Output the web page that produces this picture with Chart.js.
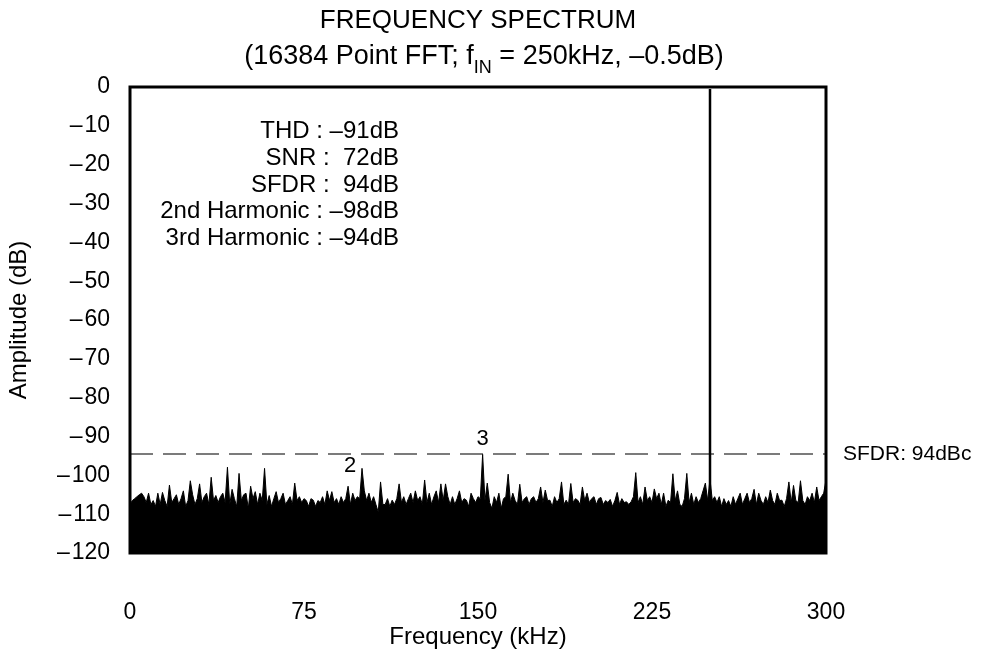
<!DOCTYPE html>
<html><head><meta charset="utf-8">
<script src="https://cdn.jsdelivr.net/npm/chart.js@4"></script>
<style>html,body{margin:0;padding:0;background:#fff}#wrap{width:986px;height:649px;position:relative}</style>
</head><body><div id="wrap"><canvas id="c"></canvas></div>
<script>
// ---------- data ----------
const titleLine1 = 'FREQUENCY SPECTRUM';
const titleLine2 = ['(16384 Point FFT; f', 'IN', ' = 250kHz, \u20130.5dB)'];
const xTitle = 'Frequency (kHz)';
const yTitle = 'Amplitude (dB)';
const xTicks = [0, 75, 150, 225, 300];
const yTicks = [0, -10, -20, -30, -40, -50, -60, -70, -80, -90, -100, -110, -120];
const binStepKHz = 1;
// noise-floor envelope, one value per kHz bin from 0 to 300 kHz (dB)
const noiseFloorDb = [
-107.5,-106.5,-106,-105.5,-105,-104.6,-105.5,-107,-104.6,-107.5,
-106.5,-108,-104.6,-107.5,-104.4,-106.5,-108,-102.5,-107,-106,
-105,-107.5,-106,-104,-108,-106.5,-101.4,-105,-107.5,-106,
-102.2,-107,-105.5,-104.6,-107.5,-100.5,-106.5,-105.2,-107,-105.5,
-104.6,-107,-97.9,-107.5,-103.6,-106,-108,-99.5,-106.5,-105,
-104.6,-108.5,-102.8,-106,-104.2,-107.5,-104.6,-106.5,-98.2,-107.5,
-105.2,-108,-106,-104.2,-107,-106,-104.6,-107.5,-106.5,-105.5,
-107.5,-102,-106.5,-105.5,-107,-106,-106.5,-108,-106,-106.4,
-108,-106.5,-107,-105.5,-107.5,-104,-106.5,-104.2,-107,-106,
-107.5,-105.5,-107,-106,-102.8,-107.5,-104.6,-106.5,-105.5,-106,
-98.2,-104,-106.5,-104.6,-107,-105.5,-107.5,-109.5,-101.7,-107.5,
-107.5,-106,-108,-106.4,-107.5,-106,-102.2,-107,-105.5,-107.5,
-106,-104.6,-107,-104,-106.5,-105.5,-107.5,-101.2,-107,-104.6,
-107.5,-105.5,-104,-107,-102.2,-106.5,-102.2,-105.5,-107.5,-105.5,
-107.5,-106,-104,-107,-106,-106.4,-108,-104.6,-106,-107,
-105.5,-106,-94.6,-106.5,-102,-107,-108.5,-105.5,-107,-104.6,
-108.5,-106,-105.5,-99.7,-107,-104.6,-106.5,-107.5,-102.3,-107,
-106,-105.5,-107.5,-106,-105.5,-107,-106,-103,-107,-103.8,
-106.5,-106.4,-108,-105.5,-107,-106,-101.7,-107.5,-106.4,-107.5,
-102.1,-107,-106,-106.4,-107.5,-103,-106.5,-104.6,-107,-106,
-105.5,-107.5,-106,-105.7,-107.5,-106.5,-107,-106.2,-108,-106.5,
-104.4,-107.5,-106,-107,-106.8,-107.5,-106.8,-105.5,-99.3,-107,
-105.5,-107.5,-103,-106.5,-105.5,-107,-103.5,-106,-104.6,-107.5,
-104.6,-108,-106.4,-107,-99.6,-106.5,-104,-107.5,-108,-106,
-99.5,-107,-104.6,-107.5,-105.5,-107,-106,-104,-102,-106.5,
-101,-106.5,-105.5,-107,-105.5,-108,-106,-107.5,-106.5,-108,
-105.5,-107.5,-106,-104.6,-107.5,-106,-104.6,-107,-106,-103.6,
-107.5,-104.6,-106.5,-107.5,-105.5,-107,-103.8,-106.5,-107.5,-104.6,
-106.5,-106.4,-108,-106,-101.7,-107,-102.6,-106.5,-107,-101.4,
-106.5,-107.5,-105.5,-106.5,-104.6,-107,-103,-106.5,-105.5,-104.6,
-101.2
];
const fundamentalKHz = 250;
const fundamentalDb = -0.5;
const sfdrLevelDb = -94.5;
const sfdrLabel = 'SFDR: 94dBc';
const harmonicLabels = ['2', '3'];
const harmonicKHz = [100, 152];
const harmonicDb = [-98.2, -94.6];
const statLines = ['THD : \u201391dB', 'SNR :  72dB', 'SFDR :  94dB', '2nd Harmonic : \u201398dB', '3rd Harmonic : \u201394dB'];

// ---------- chart ----------
const FONT = "'Liberation Sans', Arial, Helvetica, sans-serif";
Chart.defaults.font.family = FONT;
Chart.defaults.color = '#000';

const noisePts = noiseFloorDb.map((v, i) => ({x: i * binStepKHz, y: v}));
const fundPts = [{x: fundamentalKHz, y: -120}, {x: fundamentalKHz, y: fundamentalDb}];
const sfdrPts = [{x: xTicks[0], y: sfdrLevelDb}, {x: xTicks[xTicks.length - 1], y: sfdrLevelDb}];

const dash = s => String(s).replace('-', '\u2013\u200A');

const overlay = {
  id: 'overlay',
  afterDatasetsDraw(chart) {
    const ctx = chart.ctx, a = chart.chartArea;
    const xs = chart.scales.x, ys = chart.scales.y;
    ctx.save();
    // frame
    ctx.strokeStyle = '#000';
    ctx.lineWidth = 3;
    ctx.strokeRect(a.left, a.top, a.right - a.left, a.bottom - a.top);
    ctx.fillStyle = '#000';
    // title
    ctx.textAlign = 'center';
    ctx.textBaseline = 'alphabetic';
    const cx = (a.left + a.right) / 2;
    ctx.font = '26px ' + FONT;
    ctx.fillText(titleLine1, cx, 28);
    const big = '27px ' + FONT, small = '18px ' + FONT;
    ctx.font = big; const w0 = ctx.measureText(titleLine2[0]).width;
    ctx.font = small; const w1 = ctx.measureText(titleLine2[1]).width;
    ctx.font = big; const w2 = ctx.measureText(titleLine2[2]).width;
    let x0 = cx + 6 - (w0 + w1 + w2) / 2;
    ctx.textAlign = 'left';
    ctx.font = big; ctx.fillText(titleLine2[0], x0, 64);
    ctx.font = small; ctx.fillText(titleLine2[1], x0 + w0, 73);
    ctx.font = big; ctx.fillText(titleLine2[2], x0 + w0 + w1, 64);
    // stats block
    ctx.textAlign = 'right';
    ctx.font = '24px ' + FONT;
    statLines.forEach((s, i) => ctx.fillText(s, 399, 138 + i * 26.8));
    // harmonic markers
    ctx.textAlign = 'center';
    ctx.textBaseline = 'middle';
    ctx.font = '22px ' + FONT;
    ctx.fillText(harmonicLabels[0], xs.getPixelForValue(harmonicKHz[0]) - 12, ys.getPixelForValue(harmonicDb[0]) - 2);
    ctx.fillText(harmonicLabels[1], xs.getPixelForValue(harmonicKHz[1]), ys.getPixelForValue(harmonicDb[1]) - 15);
    // SFDR label
    ctx.textAlign = 'left';
    ctx.font = '21px ' + FONT;
    ctx.fillText(sfdrLabel, a.right + 17, ys.getPixelForValue(sfdrLevelDb));
    ctx.restore();
  }
};

new Chart(document.getElementById('c'), {
  type: 'line',
  data: {
    datasets: [
      {data: sfdrPts, borderColor: '#505050', borderWidth: 1.5, borderDash: [23, 10], pointRadius: 0, fill: false, order: 3},
      {data: noisePts, borderColor: '#000', backgroundColor: '#000', borderWidth: 1, pointRadius: 0, tension: 0, fill: {value: -120}, order: 2},
      {data: fundPts, borderColor: '#000', borderWidth: 2.5, pointRadius: 0, fill: false, order: 1}
    ]
  },
  options: {
    responsive: true,
    maintainAspectRatio: false,
    animation: false,
    events: [],
    layout: {padding: {left: 0, right: 160, top: 87, bottom: 0}},
    plugins: {legend: {display: false}, title: {display: false}, tooltip: {enabled: false}},
    scales: {
      x: {
        type: 'linear', min: 0, max: 300,
        afterBuildTicks: s => { s.ticks = xTicks.map(v => ({value: v})); },
        afterFit: s => { s.height = 96; },
        grid: {display: false, drawTicks: false},
        border: {display: false},
        ticks: {padding: 46, font: {size: 23}, maxRotation: 0, callback: v => dash(v)},
        title: {display: true, text: xTitle, font: {size: 24, lineHeight: 1}, padding: {top: 0, bottom: 0}}
      },
      y: {
        type: 'linear', min: -120, max: 0,
        afterBuildTicks: s => { s.ticks = yTicks.map(v => ({value: v})); },
        afterFit: s => { s.width = 130; },
        grid: {display: false, drawTicks: false},
        border: {display: false},
        ticks: {padding: 20, font: {size: 23}, callback: v => dash(v)},
        title: {display: true, text: yTitle, font: {size: 24}, padding: {top: 5, bottom: 0}}
      }
    }
  },
  plugins: [overlay]
});
</script>
</body></html>
